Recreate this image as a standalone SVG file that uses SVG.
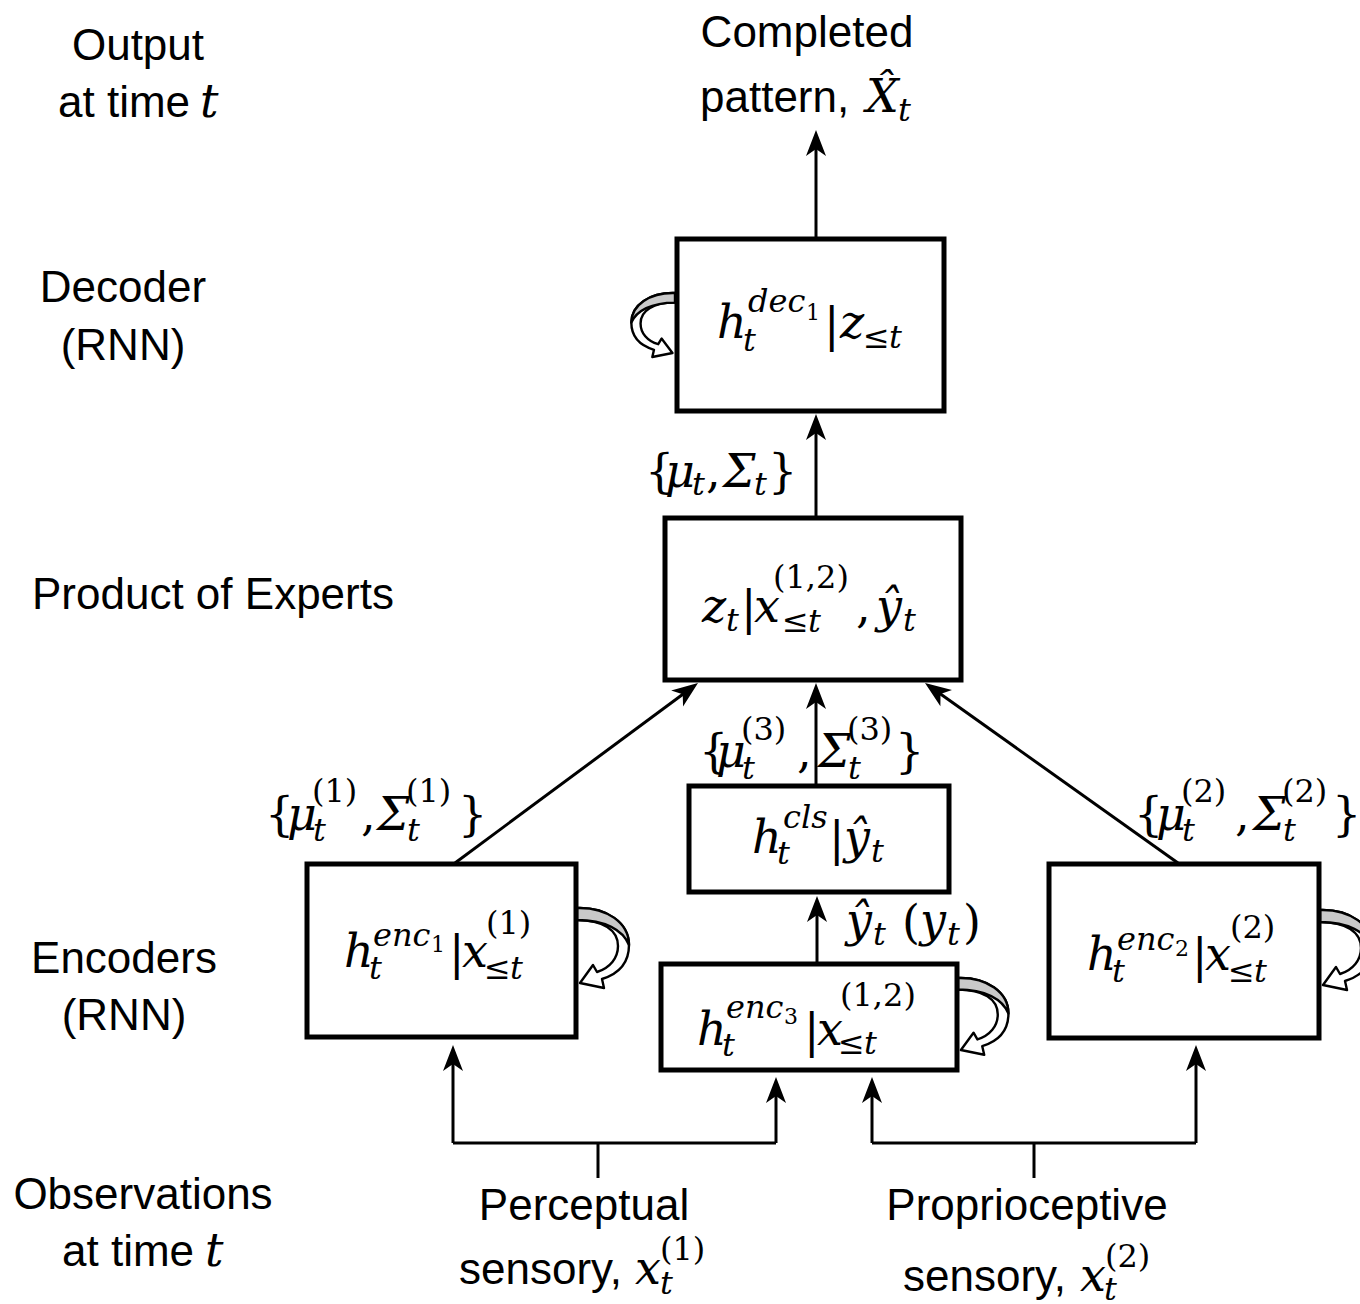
<svg xmlns="http://www.w3.org/2000/svg" width="1360" height="1304" viewBox="0 0 1360 1304">
<style>
.box{fill:#fff;stroke:#000;stroke-width:5}
.wire{fill:none;stroke:#000;stroke-width:3}
.arr{marker-end:url(#head)}
.loop{fill:#fff;stroke:#000;stroke-width:2.4;stroke-linejoin:round;vector-effect:non-scaling-stroke}
.loop-shade{fill:#c9c9c9;stroke:#000;stroke-width:2.4;stroke-linejoin:round;vector-effect:non-scaling-stroke}
text{fill:#000}
.lbl{font-family:"Liberation Sans",Arial,sans-serif;font-size:44px}
.m{font-family:"DejaVu Serif","Liberation Serif",serif;font-size:46px;font-style:italic}
.up{font-style:normal}
.s{font-size:32px}
.ss{font-size:22px}
</style>
<defs>
<marker id="head" markerUnits="userSpaceOnUse" markerWidth="34" markerHeight="24" viewBox="-20 -12 34 24" refX="0" refY="0" orient="auto">
<path d="M10,0 L-16,-10 L-9,0 L-16,10 Z" fill="#000"/>
</marker>
<!-- curved self-loop arrow, drawn facing right, attached at its top-left point -->
<g id="loop">
<path class="loop" d="M0,0 C30,-1 52,15 52,37 C52,55 41,66 25,71 L27,80 L3,75 L16,57 L20,64 C33,60 41,50 41,38 C41,22 26,12 0,12 Z"/>
<path class="loop-shade" d="M0,0 C30,-1 52,15 52,37 C46,22 28,12 0,12 Z"/>
</g>
</defs>
<rect width="1360" height="1304" fill="#fff"/>

<!-- stage labels on the left -->
<g id="stage-labels" class="lbl">
<text x="138" y="60" text-anchor="middle">Output</text>
<text x="58" y="117">at time <tspan class="m" x="200">t</tspan></text>
<text x="123" y="302" text-anchor="middle">Decoder</text>
<text x="123" y="360" text-anchor="middle">(RNN)</text>
<text x="32" y="609">Product of Experts</text>
<text x="124" y="973" text-anchor="middle">Encoders</text>
<text x="124" y="1030" text-anchor="middle">(RNN)</text>
<text x="143" y="1209" text-anchor="middle">Observations</text>
<text x="62" y="1266">at time <tspan class="m" x="205">t</tspan></text>
</g>

<!-- output and inputs -->
<g id="output">
<text class="lbl" x="807" y="47" text-anchor="middle">Completed</text>
<text class="lbl" x="700" y="112">pattern,</text>
<text class="m"><tspan x="866" y="112">X̂</tspan><tspan class="s" x="898" y="121">t</tspan></text>
</g>
<g id="input-perceptual">
<text class="lbl" x="584" y="1220" text-anchor="middle">Perceptual</text>
<text class="lbl" x="459" y="1284">sensory,</text>
<text class="m"><tspan x="635" y="1284">x</tspan><tspan class="s up" x="660" y="1260">(1)</tspan><tspan class="s" x="660" y="1294">t</tspan></text>
</g>
<g id="input-proprioceptive">
<text class="lbl" x="1027" y="1220" text-anchor="middle">Proprioceptive</text>
<text class="lbl" x="903" y="1291">sensory,</text>
<text class="m"><tspan x="1080" y="1291">x</tspan><tspan class="s up" x="1105" y="1267">(2)</tspan><tspan class="s" x="1104" y="1300">t</tspan></text>
</g>

<!-- connectors -->
<g id="connectors">
<line class="wire arr" x1="816" y1="237" x2="816" y2="140"/>
<line class="wire arr" x1="816" y1="517" x2="816" y2="424"/>
<line class="wire arr" x1="816" y1="785" x2="816" y2="693"/>
<line class="wire arr" x1="817" y1="962" x2="817" y2="906"/>
<line class="wire arr" x1="455" y1="863" x2="689.96" y2="688.95"/>
<line class="wire arr" x1="1178" y1="863" x2="933.15" y2="688.80"/>
<polyline class="wire" points="453,1143 776,1143"/>
<line class="wire" x1="598" y1="1143" x2="598" y2="1178"/>
<line class="wire arr" x1="453" y1="1143" x2="453" y2="1055"/>
<line class="wire arr" x1="776" y1="1143" x2="776" y2="1087"/>
<polyline class="wire" points="872,1143 1196,1143"/>
<line class="wire" x1="1034" y1="1143" x2="1034" y2="1178"/>
<line class="wire arr" x1="872" y1="1143" x2="872" y2="1087"/>
<line class="wire arr" x1="1196" y1="1143" x2="1196" y2="1055"/>
<!-- recurrent self-loops -->
<use href="#loop" transform="translate(675,293) scale(-0.84,0.8)"/>
<use href="#loop" transform="translate(577,908)"/>
<use href="#loop" transform="translate(958,978) scale(0.97,0.96)"/>
<use href="#loop" transform="translate(1320,910)"/>
</g>

<!-- connector labels -->
<g id="connector-labels" class="m">
<text><tspan class="up" x="645" y="487">{</tspan><tspan x="665" y="487">μ</tspan><tspan class="s" x="692" y="495">t</tspan><tspan class="up" x="706" y="487">,</tspan><tspan x="723" y="487">Σ</tspan><tspan class="s" x="754" y="495">t</tspan><tspan class="up" x="768" y="487">}</tspan></text>
<text><tspan class="up" x="699" y="767">{</tspan><tspan x="716" y="767">μ</tspan><tspan class="s up" x="741" y="740">(3)</tspan><tspan class="s" x="742" y="779">t</tspan><tspan class="up" x="797" y="767">,</tspan><tspan x="818" y="767">Σ</tspan><tspan class="s up" x="847" y="740">(3)</tspan><tspan class="s" x="848" y="779">t</tspan><tspan class="up" x="895" y="767">}</tspan></text>
<text><tspan class="up" x="265" y="830">{</tspan><tspan x="287" y="830">μ</tspan><tspan class="s up" x="312" y="802">(1)</tspan><tspan class="s" x="313" y="841">t</tspan><tspan class="up" x="361" y="830">,</tspan><tspan x="377" y="830">Σ</tspan><tspan class="s up" x="406" y="802">(1)</tspan><tspan class="s" x="407" y="841">t</tspan><tspan class="up" x="458" y="830">}</tspan></text>
<text><tspan class="up" x="1134" y="830">{</tspan><tspan x="1156" y="830">μ</tspan><tspan class="s up" x="1181" y="802">(2)</tspan><tspan class="s" x="1182" y="841">t</tspan><tspan class="up" x="1235" y="830">,</tspan><tspan x="1253" y="830">Σ</tspan><tspan class="s up" x="1282" y="802">(2)</tspan><tspan class="s" x="1283" y="841">t</tspan><tspan class="up" x="1332" y="830">}</tspan></text>
<text><tspan x="846" y="936">ŷ</tspan><tspan class="s" x="873" y="945">t</tspan><tspan class="up" x="902" y="938">(</tspan><tspan x="920" y="936">y</tspan><tspan class="s" x="947" y="945">t</tspan><tspan class="up" x="963" y="938">)</tspan></text>
</g>

<!-- nodes -->
<g id="decoder">
<rect class="box" x="677" y="239" width="267" height="172"/>
<text class="m"><tspan x="717" y="338">h</tspan><tspan class="s" x="743" y="351">t</tspan><tspan class="s" x="748" y="312">dec</tspan><tspan class="ss up" x="806" y="320">1</tspan><tspan class="up" x="824" y="341">|</tspan><tspan x="840" y="338">z</tspan><tspan class="s up" x="863" y="348">≤</tspan><tspan class="s" x="889" y="348">t</tspan></text>
</g>
<g id="product-of-experts">
<rect class="box" x="665" y="518" width="296" height="162"/>
<text class="m"><tspan x="702" y="622">z</tspan><tspan class="s" x="726" y="631">t</tspan><tspan class="up" x="741" y="624">|</tspan><tspan x="754" y="622">x</tspan><tspan class="s up" x="773" y="588">(1,2)</tspan><tspan class="s up" x="782" y="632">≤</tspan><tspan class="s" x="808" y="632">t</tspan><tspan class="up" x="856" y="622">,</tspan><tspan x="876" y="622">ŷ</tspan><tspan class="s" x="903" y="631">t</tspan></text>
</g>
<g id="classifier">
<rect class="box" x="689" y="786" width="260" height="106"/>
<text class="m"><tspan x="752" y="853">h</tspan><tspan class="s" x="777" y="864">t</tspan><tspan class="s" x="783" y="828">cls</tspan><tspan class="up" x="829" y="855">|</tspan><tspan x="844" y="853">ŷ</tspan><tspan class="s" x="871" y="862">t</tspan></text>
</g>
<g id="encoder-1">
<rect class="box" x="307" y="864" width="269" height="173"/>
<text class="m"><tspan x="344" y="967">h</tspan><tspan class="s" x="369" y="979">t</tspan><tspan class="s" x="373" y="946">enc</tspan><tspan class="ss up" x="431" y="952">1</tspan><tspan class="up" x="449" y="969">|</tspan><tspan x="462" y="967">x</tspan><tspan class="s up" x="486" y="934">(1)</tspan><tspan class="s up" x="484" y="979">≤</tspan><tspan class="s" x="510" y="979">t</tspan></text>
</g>
<g id="encoder-3">
<rect class="box" x="661" y="964" width="296" height="106"/>
<text class="m"><tspan x="697" y="1045">h</tspan><tspan class="s" x="722" y="1056">t</tspan><tspan class="s" x="726" y="1018">enc</tspan><tspan class="ss up" x="784" y="1024">3</tspan><tspan class="up" x="804" y="1047">|</tspan><tspan x="817" y="1045">x</tspan><tspan class="s up" x="840" y="1006">(1,2)</tspan><tspan class="s up" x="838" y="1054">≤</tspan><tspan class="s" x="864" y="1054">t</tspan></text>
</g>
<g id="encoder-2">
<rect class="box" x="1049" y="864" width="270" height="174"/>
<text class="m"><tspan x="1087" y="970">h</tspan><tspan class="s" x="1112" y="982">t</tspan><tspan class="s" x="1117" y="950">enc</tspan><tspan class="ss up" x="1175" y="956">2</tspan><tspan class="up" x="1192" y="972">|</tspan><tspan x="1205" y="970">x</tspan><tspan class="s up" x="1230" y="938">(2)</tspan><tspan class="s up" x="1228" y="982">≤</tspan><tspan class="s" x="1254" y="982">t</tspan></text>
</g>
</svg>
